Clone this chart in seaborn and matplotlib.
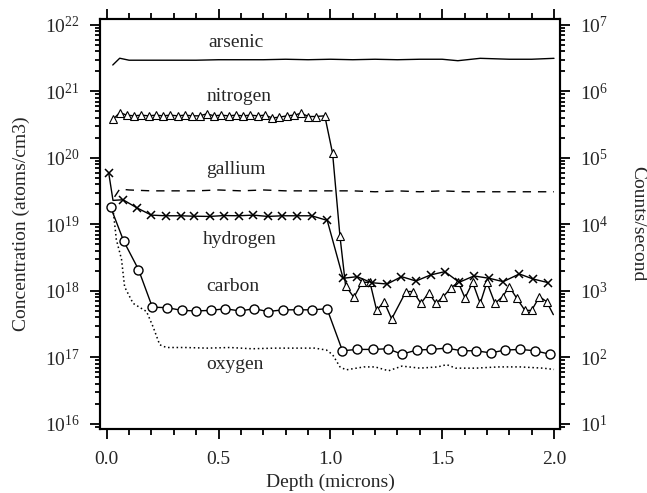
import numpy as np
import pandas as pd
import matplotlib
matplotlib.use("Agg")
import matplotlib.pyplot as plt
import matplotlib.ticker as mticker
import seaborn as sns

sns.set_style("ticks")
plt.rcParams['font.family'] = ['Liberation Serif', 'DejaVu Serif']
plt.rcParams['mathtext.fontset'] = 'custom'
plt.rcParams['mathtext.rm'] = 'Liberation Serif'
plt.rcParams['font.size'] = 14

# arsenic (solid line)
arsenic_x = [0.027, 0.058, 0.1, 0.2, 0.3, 0.4, 0.5, 0.6, 0.7, 0.8, 0.9, 1.0, 1.1, 1.2,
             1.3, 1.4, 1.5, 1.57, 1.67, 1.8, 1.9, 2.0]
arsenic_y = [2.5e21, 3.16e21, 2.95e21, 2.95e21, 2.95e21, 2.95e21, 3.0e21, 3.0e21, 3.0e21,
             3.05e21, 3.0e21, 3.05e21, 3.0e21, 3.05e21, 3.0e21, 3.05e21, 3.05e21, 2.9e21,
             3.15e21, 3.05e21, 3.05e21, 3.15e21]

# nitrogen (triangles)
nitrogen_x = [0.028, 0.058, 0.090, 0.122, 0.155, 0.187, 0.220, 0.252, 0.285, 0.317, 0.350,
              0.382, 0.415, 0.447, 0.480, 0.512, 0.545, 0.577, 0.610, 0.642, 0.675, 0.707,
              0.740, 0.772, 0.805, 0.837, 0.870, 0.902, 0.935, 0.975, 1.010, 1.043, 1.068,
              1.105, 1.142, 1.177, 1.207, 1.240, 1.274, 1.338, 1.370, 1.405, 1.440, 1.472,
              1.505, 1.540, 1.572, 1.602, 1.636, 1.670, 1.700, 1.736, 1.770, 1.800, 1.833,
              1.870, 1.900, 1.935, 1.967, 1.997]
nitrogen_y = [3.8e20, 4.8e20, 4.4e20, 4.3e20, 4.4e20, 4.3e20, 4.4e20, 4.3e20, 4.4e20, 4.3e20,
              4.4e20, 4.3e20, 4.3e20, 4.6e20, 4.3e20, 4.4e20, 4.3e20, 4.4e20, 4.3e20, 4.4e20,
              4.3e20, 4.4e20, 4.0e20, 4.1e20, 4.3e20, 4.4e20, 4.7e20, 4.2e20, 4.2e20, 4.3e20,
              1.17e20, 6.6e18, 1.2e18, 8.0e17, 1.35e18, 1.35e18, 5.1e17, 6.9e17, 3.8e17,
              9.8e17, 9.8e17, 6.5e17, 9.4e17, 6.5e17, 8.2e17, 1.12e18, 1.35e18, 7.8e17,
              1.35e18, 6.5e17, 1.35e18, 6.5e17, 8.2e17, 1.16e18, 7.8e17, 5.1e17, 5.1e17,
              8.2e17, 6.9e17, 4.4e17]

# gallium (dashed)
gallium_x = [0.035, 0.058, 0.1, 0.2, 0.3, 0.4, 0.5, 0.6, 0.7, 0.8, 0.9, 1.0, 1.1, 1.2, 1.3,
             1.4, 1.5, 1.6, 1.7, 1.8, 1.9, 2.0]
gallium_y = [2.6e19, 3.4e19, 3.3e19, 3.2e19, 3.2e19, 3.2e19, 3.3e19, 3.2e19, 3.3e19, 3.2e19,
             3.2e19, 3.2e19, 3.2e19, 3.1e19, 3.2e19, 3.1e19, 3.2e19, 3.1e19, 3.1e19, 3.1e19,
             3.1e19, 3.1e19]

# hydrogen (crosses)
hydrogen_x = [0.009, 0.028, 0.073, 0.137, 0.20, 0.264, 0.33, 0.39, 0.46, 0.525, 0.59, 0.655,
              0.72, 0.785, 0.85, 0.916, 0.986, 1.057, 1.12, 1.184, 1.254, 1.318, 1.383, 1.448,
              1.512, 1.576, 1.642, 1.71, 1.773, 1.845, 1.907, 1.975]
hydrogen_y = [5.9e19, 2.3e19, 2.35e19, 1.76e19, 1.38e19, 1.35e19, 1.35e19, 1.33e19, 1.32e19,
              1.36e19, 1.35e19, 1.38e19, 1.32e19, 1.35e19, 1.35e19, 1.35e19, 1.15e19, 1.55e18,
              1.64e18, 1.33e18, 1.27e18, 1.64e18, 1.41e18, 1.74e18, 1.95e18, 1.35e18, 1.68e18,
              1.55e18, 1.38e18, 1.8e18, 1.51e18, 1.33e18]

# carbon (circles)
carbon_x = [0.018, 0.076, 0.142, 0.204, 0.27, 0.336, 0.40, 0.466, 0.53, 0.595, 0.66, 0.72,
            0.79, 0.855, 0.92, 0.985, 1.054, 1.12, 1.19, 1.256, 1.32, 1.386, 1.45, 1.52,
            1.587, 1.65, 1.717, 1.78, 1.85, 1.915, 1.98]
carbon_y = [1.8e19, 5.6e18, 2.1e18, 5.7e17, 5.6e17, 5.1e17, 5.0e17, 5.1e17, 5.4e17, 5.0e17,
            5.4e17, 4.9e17, 5.2e17, 5.2e17, 5.2e17, 5.4e17, 1.26e17, 1.32e17, 1.32e17,
            1.35e17, 1.12e17, 1.29e17, 1.32e17, 1.38e17, 1.26e17, 1.26e17, 1.17e17, 1.29e17,
            1.32e17, 1.26e17, 1.12e17]

# oxygen (dotted)
oxygen_x = [0.03, 0.043, 0.066, 0.08, 0.118, 0.178, 0.207, 0.237, 0.267, 0.35, 0.45, 0.55,
            0.65, 0.75, 0.85, 0.93, 0.983, 1.01, 1.043, 1.07, 1.15, 1.2, 1.26, 1.32, 1.4,
            1.48, 1.52, 1.56, 1.65, 1.75, 1.85, 1.95, 2.0]
oxygen_y = [1.5e19, 5.9e18, 3.0e18, 1.15e18, 6.5e17, 4.9e17, 2.9e17, 1.55e17, 1.41e17,
            1.41e17, 1.38e17, 1.41e17, 1.35e17, 1.38e17, 1.38e17, 1.38e17, 1.29e17, 1.1e17,
            7.2e16, 6.5e16, 7.2e16, 7.2e16, 6.3e16, 7.4e16, 6.9e16, 7.2e16, 7.8e16, 6.9e16,
            6.9e16, 7.2e16, 7.2e16, 6.9e16, 6.6e16]

labels = ["arsenic", "nitrogen", "gallium", "hydrogen", "carbon", "oxygen"]
label_x = [0.58, 0.59, 0.577, 0.595, 0.565, 0.573]
label_y = [5.4e21, 8.3e20, 6.6e19, 5.9e18, 1.15e18, 7.8e16]

conc_ticks = [1e16, 1e17, 1e18, 1e19, 1e20, 1e21, 1e22]
count_ticks = [1e1, 1e2, 1e3, 1e4, 1e5, 1e6, 1e7]

fig = plt.figure(figsize=(6.47, 4.93), dpi=100)
ax = fig.add_axes([0.1546, 0.1292, 0.7110, 0.8323])

def draw(x, y, **kw):
    df = pd.DataFrame({"x": x, "y": y})
    sns.lineplot(data=df, x="x", y="y", ax=ax, color="black", estimator=None,
                 sort=False, legend=False, **kw)

draw(arsenic_x, arsenic_y, linewidth=1.0)
draw(gallium_x, gallium_y, linewidth=1.0, dashes=(6, 5))
draw(oxygen_x, oxygen_y, linewidth=1.1, linestyle=(0, (1, 1.8)))
draw(nitrogen_x, nitrogen_y, linewidth=1.0, marker="^", markersize=5.5,
     markerfacecolor="white", markeredgecolor="black", markeredgewidth=0.8,
     markevery=list(range(len(nitrogen_x) - 1)))
draw(hydrogen_x, hydrogen_y, linewidth=1.0, marker="x", markersize=6,
     markeredgecolor="black", markeredgewidth=1.1,
     markevery=[0] + list(range(2, len(hydrogen_x))))
draw(carbon_x, carbon_y, linewidth=1.0, marker="o", markersize=6.5,
     markerfacecolor="white", markeredgecolor="black", markeredgewidth=1.0)

for t, lx, ly in zip(labels, label_x, label_y):
    ax.text(lx, ly, t, ha="center", va="center", fontsize=14)

ax.set_yscale("log")
ylo, yhi = 8.3e15, 1.23e22
ax.set_xlim(-0.030, 2.027)
ax.set_ylim(ylo, yhi)
ax.xaxis.set_major_locator(mticker.MultipleLocator(0.5))
ax.xaxis.set_minor_locator(mticker.MultipleLocator(0.1))
ax.xaxis.set_major_formatter(mticker.FormatStrFormatter("%.1f"))
ax.yaxis.set_major_locator(mticker.FixedLocator(conc_ticks))
ax.yaxis.set_minor_locator(mticker.LogLocator(base=10, subs=np.arange(2, 10), numticks=20))
ax.yaxis.set_major_formatter(mticker.LogFormatterMathtext())
ax.yaxis.set_minor_formatter(mticker.NullFormatter())

ax2 = ax.twinx()
ax2.set_yscale("log")
ax2.set_ylim(ylo / 1e15, yhi / 1e15)
ax2.yaxis.set_major_locator(mticker.FixedLocator(count_ticks))
ax2.yaxis.set_minor_locator(mticker.LogLocator(base=10, subs=np.arange(2, 10), numticks=20))
ax2.yaxis.set_major_formatter(mticker.LogFormatterMathtext())
ax2.yaxis.set_minor_formatter(mticker.NullFormatter())
ax2.tick_params(axis="x", labelbottom=False, labeltop=False, bottom=False, top=False)

for a in (ax, ax2):
    for s in a.spines.values():
        s.set_linewidth(1.5)
        s.set_color("black")

ax.tick_params(axis="x", which="both", top=True, bottom=True, direction="out",
               width=1.3, color="black", labelsize=14, pad=8)
ax.tick_params(axis="x", which="major", length=7.5)
ax.tick_params(axis="x", which="minor", length=4.3)
ax.tick_params(axis="y", which="both", direction="out", width=1.3, color="black",
               labelsize=14, pad=7)
ax.tick_params(axis="y", which="major", length=7.5)
ax.tick_params(axis="y", which="minor", length=3.6)
ax2.tick_params(axis="y", which="both", direction="out", width=1.3, color="black",
                labelsize=14, pad=7)
ax2.tick_params(axis="y", which="major", length=7.5)
ax2.tick_params(axis="y", which="minor", length=3.6)

ax.set_xlabel("Depth (microns)", fontsize=14)
ax.set_ylabel("Concentration (atoms/cm3)", fontsize=14, va="center")
ax.yaxis.set_label_coords(-0.172, 0.5)
ax2.set_ylabel("Counts/second", fontsize=14, rotation=270, va="center")
ax2.yaxis.set_label_coords(1.17, 0.5)

fig.savefig("out.png", dpi=100)
